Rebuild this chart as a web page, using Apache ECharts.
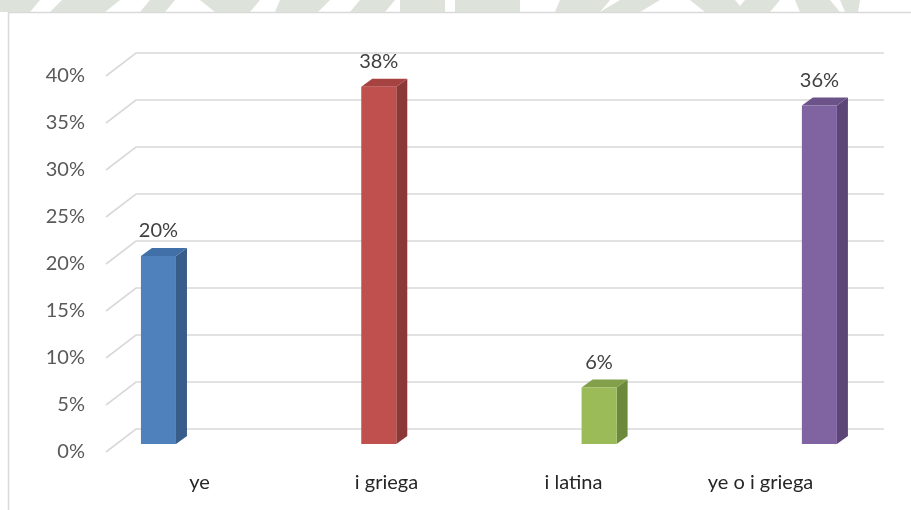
<!DOCTYPE html>
<html>
<head>
<meta charset="utf-8">
<script src="https://cdn.jsdelivr.net/npm/echarts@6/dist/echarts.min.js"></script>
<style>
  html, body { margin: 0; padding: 0; background: #ffffff; }
  #chart { width: 911px; height: 510px; }
</style>
</head>
<body>
<div id="chart"></div>
<script>
// Categories and shares (percent)
const categories = ['ye', 'i griega', 'i latina', 'ye o i griega'];
const shares = [20, 38, 6, 36];
const tickValues = [0, 5, 10, 15, 20, 25, 30, 35, 40];

// Face colours for each bar: front, top, side
const frontColors = ['#4f81bd', '#c0504d', '#9bbb59', '#8064a2'];
const topColors = ['#416fa7', '#a6423f', '#829f49', '#6b5389'];
const sideColors = ['#385d8a', '#8c3836', '#6c8a3c', '#5b4677'];

// Pseudo-3D geometry (pixels)
const BAR_DEPTH = [11, -8];
const WALL_BACK_X = 136, WALL_RIGHT_X = 884, WALL_FRONT_X = 106;
const WALL_BACK_DY = -15, WALL_FRONT_DY = 8;
const GRID_COLOR = '#d9d9d9';
const FONT = 'Lato, "Open Sans", sans-serif';

const chart = echarts.init(document.getElementById('chart'));

function wallItem(params, api) {
  const y = api.coord([0, api.value(0)])[1];
  const yb = y + WALL_BACK_DY, yf = y + WALL_FRONT_DY;
  return {
    type: 'polyline',
    shape: { points: [[WALL_FRONT_X, yf], [WALL_BACK_X, yb], [WALL_RIGHT_X, yb]] },
    style: { stroke: GRID_COLOR, lineWidth: 1.6, fill: null }
  };
}

function barItem(params, api) {
  const i = api.value(0), v = api.value(1);
  const base = api.coord([i, 0]);
  const top = api.coord([i, v]);
  const w = api.size([1, 0])[0] * 0.159;
  const x0 = base[0] - w / 2, x1 = base[0] + w / 2;
  const y0 = base[1], y1 = top[1];
  const [dx, dy] = BAR_DEPTH;
  return {
    type: 'group',
    children: [
      { type: 'polygon', shape: { points: [[x1, y0], [x1 + dx, y0 + dy], [x1 + dx, y1 + dy], [x1, y1]] },
        style: { fill: sideColors[i] } },
      { type: 'polygon', shape: { points: [[x0, y1], [x0 + dx, y1 + dy], [x1 + dx, y1 + dy], [x1, y1]] },
        style: { fill: topColors[i] } },
      { type: 'rect', shape: { x: x0, y: y1, width: w, height: y0 - y1 },
        style: { fill: frontColors[i] } },
      { type: 'text', x: base[0], y: y1 - 25,
        style: { text: v + '%', fill: '#404040', font: '20px ' + FONT, align: 'center', verticalAlign: 'middle' } }
    ]
  };
}

// Watermark band above the chart frame
const wmColor = '#dde2da';
const wmShapes = [
  [[0, 0], [40, 0], [30, 12], [0, 12]],
  [[62, 0], [120, 0], [105, 12], [50, 12]],
  [[150, 0], [175, 0], [165, 12], [140, 12]],
  [[200, 0], [260, 0], [250, 12], [215, 12]],
  [[280, 0], [330, 0], [318, 12], [275, 12]],
  [[360, 0], [395, 0], [385, 12], [350, 12]],
  [[400, 0], [445, 0], [445, 12], [400, 12]],
  [[455, 0], [520, 0], [520, 12], [455, 12]],
  [[560, 0], [610, 0], [600, 12], [555, 12]],
  [[620, 0], [660, 0], [640, 12], [600, 12]],
  [[690, 0], [735, 0], [745, 12], [705, 12]],
  [[745, 0], [780, 0], [770, 12], [735, 12]],
  [[795, 0], [830, 0], [840, 12], [800, 12]],
  [[840, 0], [860, 0], [858, 12], [845, 12]]
];

chart.setOption({
  animation: false,
  backgroundColor: '#ffffff',
  grid: [
    { left: 48.3, width: 860, top: 68, height: 376 },
    { left: 106, width: 748, top: 76, height: 376 }
  ],
  xAxis: [
    // bar plane: one unit per category, 220.3 px apart
    { type: 'value', gridIndex: 0, min: -0.5, max: 3.4035, show: false },
    { type: 'category', gridIndex: 1, data: categories,
      axisLine: { show: false }, axisTick: { show: false },
      axisLabel: { color: '#262626', fontSize: 20, fontFamily: FONT, margin: 21 } }
  ],
  yAxis: [
    { type: 'value', gridIndex: 0, min: 0, max: 40, interval: 5, show: false },
    { type: 'value', gridIndex: 1, min: 0, max: 40, interval: 5,
      axisLine: { show: false }, axisTick: { show: false }, splitLine: { show: false },
      axisLabel: { color: '#595959', fontSize: 20, fontFamily: FONT, margin: 21,
                   formatter: v => v + '%' } }
  ],
  graphic: [
    { type: 'group', silent: true, z: -10, children: wmShapes.map(p => ({
        type: 'polygon', shape: { points: p }, style: { fill: wmColor } })) },
    { type: 'rect', silent: true, z: -5,
      shape: { x: 8.5, y: 12.5, width: 940, height: 540 },
      style: { fill: null, stroke: '#d9d9d9', lineWidth: 1.5 } }
  ],
  series: [
    { type: 'custom', xAxisIndex: 0, yAxisIndex: 0, z: 1,
      data: tickValues.map(v => [v]), renderItem: wallItem, silent: true },
    { type: 'custom', xAxisIndex: 0, yAxisIndex: 0, z: 2,
      data: shares.map((v, i) => [i, v]), renderItem: barItem }
  ]
});
</script>
</body>
</html>
